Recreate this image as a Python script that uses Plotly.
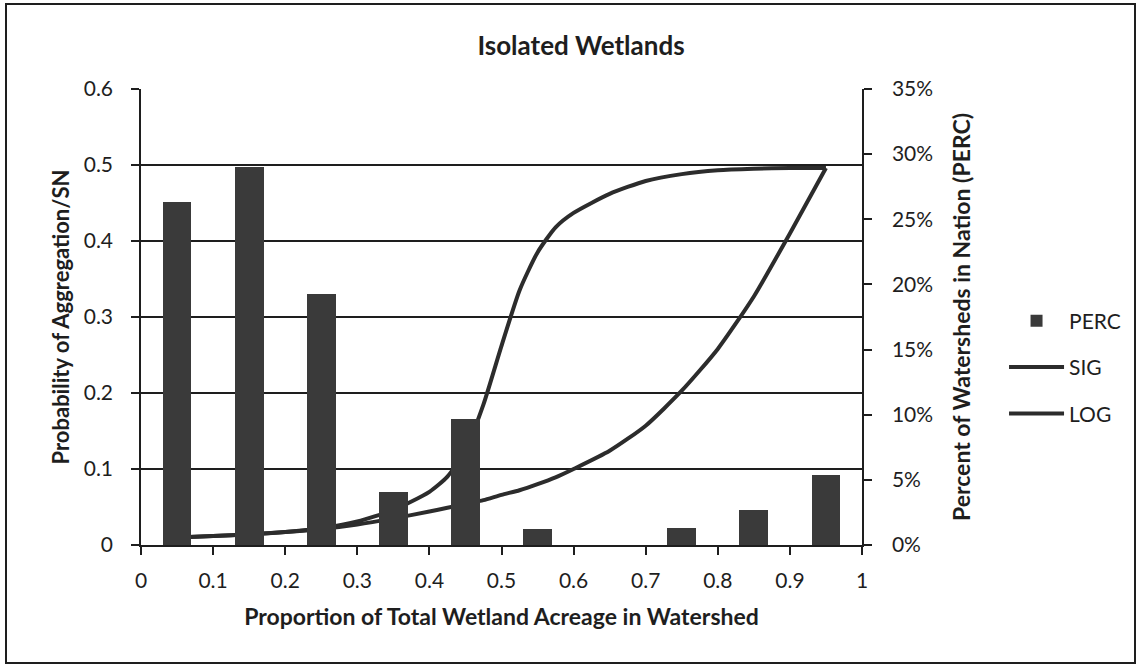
import plotly.graph_objects as go

# Wetland proportion classes (bin centres) and share of watersheds per class
bin_centers = [0.05, 0.15, 0.25, 0.35, 0.45, 0.55, 0.65, 0.75, 0.85, 0.95]
perc = [0.263, 0.290, 0.193, 0.041, 0.097, 0.012, 0.0, 0.013, 0.027, 0.054]

# Probability of aggregation curves
curve_x = [0.05, 0.10, 0.15, 0.20, 0.25, 0.30, 0.35, 0.40, 0.425, 0.45, 0.475,
           0.50, 0.525, 0.55, 0.575, 0.60, 0.65, 0.70, 0.75, 0.80, 0.85, 0.90, 0.95]
sig = [0.010, 0.012, 0.014, 0.017, 0.022, 0.031, 0.046, 0.070, 0.090, 0.125, 0.185,
       0.262, 0.335, 0.385, 0.418, 0.437, 0.462, 0.479, 0.488, 0.493, 0.495, 0.496, 0.496]
log = [0.010, 0.012, 0.014, 0.017, 0.021, 0.027, 0.035, 0.044, 0.049, 0.054, 0.059,
       0.066, 0.072, 0.080, 0.089, 0.100, 0.124, 0.157, 0.203, 0.258, 0.327, 0.410, 0.496]

FONT = "Lato"
INK = "#1e1e1e"
BAR = "#3a3a3a"
LINE = "#2c2c2c"

fig = go.Figure()

fig.add_trace(go.Bar(x=bin_centers, y=perc, name="PERC", width=0.04, legendgroup="p",
                     marker=dict(color=BAR, line=dict(width=0)), yaxis="y2"))
fig.add_trace(go.Scatter(x=curve_x, y=sig, name="SIG", mode="lines", legendgroup="s",
                         line=dict(color=LINE, width=4, shape="spline", smoothing=0.6),
                         yaxis="y"))
fig.add_trace(go.Scatter(x=curve_x, y=log, name="LOG", mode="lines", legendgroup="l",
                         line=dict(color=LINE, width=4, shape="spline", smoothing=0.6),
                         yaxis="y"))

fig.update_layout(
    width=1138, height=670,
    margin=dict(l=141, r=276, t=89, b=125),
    paper_bgcolor="white", plot_bgcolor="white",
    font=dict(family=FONT, size=21, color=INK),
    title=dict(text="<b>Isolated Wetlands</b>", x=(581 / 1138), xanchor="center",
               y=1 - 46 / 670, yanchor="middle", font=dict(size=26, family=FONT, color=INK)),
    showlegend=True,
    legend=dict(x=1.197, y=0.39, xanchor="left", yanchor="middle",
                traceorder="grouped", font=dict(size=21, family=FONT, color=INK),
                bgcolor="rgba(0,0,0,0)", itemwidth=55, tracegroupgap=16),
    bargap=0,
    xaxis=dict(range=[0, 1], dtick=0.1, tick0=0, showgrid=False, zeroline=False,
               showline=True, linecolor=INK, linewidth=1.5,
               ticks="outside", ticklen=8, tickcolor=INK, tickwidth=1.5,
               ticklabelstandoff=8,
               title=dict(text="<b>Proportion of Total Wetland Acreage in Watershed</b>",
                          standoff=18, font=dict(size=23)),
               tickfont=dict(size=21)),
    yaxis=dict(range=[0, 0.6], dtick=0.1, tick0=0, showgrid=True, gridcolor=INK,
               gridwidth=1.5, zeroline=False, showline=True, linecolor=INK, linewidth=1.5,
               ticks="outside", ticklen=8, tickcolor=INK, tickwidth=1.5,
               ticklabelstandoff=14, tickformat=".1~f",
               title=dict(text="<b>Probability of Aggregation/SN</b>", standoff=8,
                          font=dict(size=22)),
               tickfont=dict(size=21)),
    yaxis2=dict(range=[0, 0.35], dtick=0.05, tick0=0, overlaying="y", side="right",
                showgrid=False, zeroline=False, showline=True, linecolor=INK, linewidth=1.5,
                ticks="outside", ticklen=8, tickcolor=INK, tickwidth=1.5,
                ticklabelstandoff=16, tickformat=".0%",
                title=dict(text="<b>Percent of Watersheds in Nation (PERC)</b>", standoff=22,
                           font=dict(size=23)),
                tickfont=dict(size=21)),
)

# chart frame around the whole figure
fig.add_shape(type="rect", xref="paper", yref="paper",
              x0=(6 - 141) / 721, x1=(1135 - 141) / 721,
              y0=(545 - 663) / 456, y1=(545 - 4) / 456,
              line=dict(color=INK, width=2), fillcolor="rgba(0,0,0,0)")

fig.write_html("out.html")
